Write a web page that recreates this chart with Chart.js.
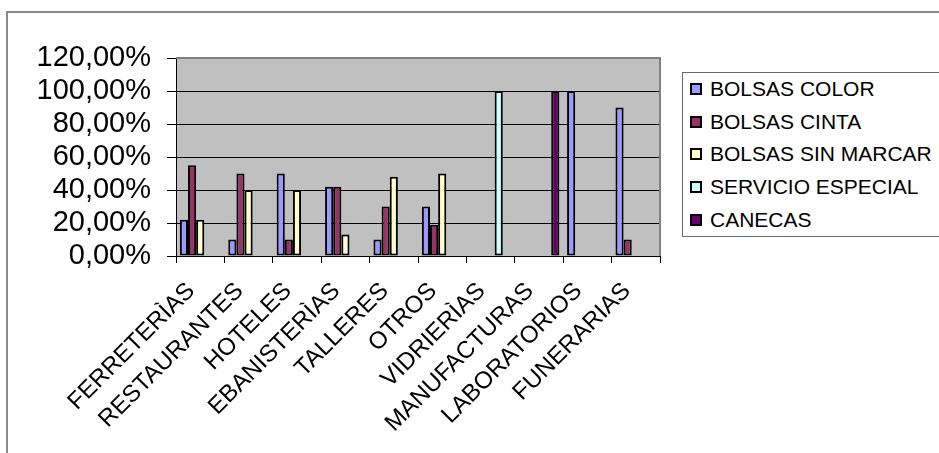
<!DOCTYPE html>
<html>
<head>
<meta charset="utf-8">
<script src="https://cdn.jsdelivr.net/npm/chart.js@4/dist/chart.umd.min.js"></script>
<style>
  html, body { margin: 0; padding: 0; background: #fff; }
  #wrap { position: relative; width: 939px; height: 453px; overflow: hidden;
          font-family: "Liberation Sans", Arial, sans-serif; }
  #frame { position: absolute; left: 6px; top: 11px; width: 980px; height: 500px;
           border: 2px solid #8a8a8a; }
  #chart { position: absolute; left: 0; top: 0; }
  #legend { position: absolute; left: 682px; top: 72px; width: 280px; height: 165px;
            border: 1.5px solid #6a6a6a; background: #fff; padding-top: 0px; box-sizing: border-box; }
  .item { height: 32.6px; display: flex; align-items: center; font-size: 21px; color: #000; }
  .swatch { width: 8px; height: 8px; border: 2px solid #000; margin-left: 7px; margin-right: 8px; }
</style>
</head>
<body>
<div id="wrap">
  <div id="frame"></div>
  <canvas id="chart" width="939" height="453"></canvas>
  <div id="legend"></div>
</div>
<script>
// categories and series (percent values)
const categories = ["FERRETERÌAS", "RESTAURANTES", "HOTELES", "EBANISTERÌAS", "TALLERES",
                    "OTROS", "VIDRIERÌAS", "MANUFACTURAS", "LABORATORIOS", "FUNERARIAS"];
const seriesNames = ["BOLSAS COLOR", "BOLSAS CINTA", "BOLSAS SIN MARCAR", "SERVICIO ESPECIAL", "CANECAS"];
const seriesColors = ["#9999FF", "#993366", "#FFFFCC", "#CCFFFF", "#660066"];

const bolsasColor      = [22, 10, 50, 42, 10, 30, null, null, 100, 90];
const bolsasCinta      = [55, 50, 10, 42, 30, 19, null, null, null, 10];
const bolsasSinMarcar  = [22, 40, 40, 13, 48, 50, null, null, null, null];
const servicioEspecial = [null, null, null, null, null, null, 100, null, null, null];
const canecas          = [null, null, null, null, null, null, null, 100, null, null];

const yMin = 0, yMax = 120, yStep = 20;

const seriesData = [bolsasColor, bolsasCinta, bolsasSinMarcar, servicioEspecial, canecas];
const FONT = "'Liberation Sans', Arial, sans-serif";

// gray plot background + gray top/right border
const plotArea = {
  id: "plotArea",
  beforeDraw(chart) {
    const { ctx, chartArea: a } = chart;
    ctx.save();
    ctx.fillStyle = "#C0C0C0";
    ctx.fillRect(a.left, a.top, a.right - a.left, a.bottom - a.top);
    ctx.restore();
  },
  beforeDatasetsDraw(chart) {
    const { ctx, chartArea: a } = chart;
    ctx.save();
    ctx.strokeStyle = "#808080";
    ctx.lineWidth = 2;
    ctx.beginPath();
    ctx.moveTo(a.left, a.top);
    ctx.lineTo(a.right, a.top);
    ctx.lineTo(a.right, a.bottom);
    ctx.stroke();
    ctx.restore();
  }
};

document.addEventListener("DOMContentLoaded", () => {
  const datasets = seriesNames.map((name, i) => ({
    label: name,
    data: seriesData[i],
    backgroundColor: seriesColors[i],
    borderColor: "#000",
    borderWidth: 2,
    borderSkipped: false,
    barPercentage: 1,
    categoryPercentage: 0.84
  }));

  new Chart(document.getElementById("chart"), {
    type: "bar",
    data: { labels: categories, datasets },
    plugins: [plotArea],
    options: {
      responsive: false,
      animation: false,
      layout: { padding: { top: 58, right: 279, left: 0, bottom: 0 } },
      plugins: { legend: { display: false }, tooltip: { enabled: false } },
      scales: {
        x: {
          grid: { drawOnChartArea: false, drawTicks: true, tickLength: 7, color: "#000", offset: true },
          border: { color: "#000", width: 1 },
          ticks: { autoSkip: false, minRotation: 45, maxRotation: 45, color: "#000", padding: 14,
                   labelOffset: -9, font: { family: FONT, size: 24 } },
          afterFit(s) { s.height = 197; }
        },
        y: {
          min: yMin, max: yMax,
          grid: { color: "#000", lineWidth: 1, tickLength: 9, tickColor: "#000" },
          border: { color: "#000", width: 1 },
          ticks: { stepSize: yStep, autoSkip: false, color: "#000", padding: 16,
                   font: { family: FONT, size: 29 },
                   callback: v => v.toFixed(2).replace(".", ",") + "%" },
          afterFit(s) { s.width = 176; }
        }
      }
    }
  });

  // legend box
  const leg = document.getElementById("legend");
  seriesNames.forEach((name, i) => {
    const row = document.createElement("div");
    row.className = "item";
    const sw = document.createElement("span");
    sw.className = "swatch";
    sw.style.background = seriesColors[i];
    const tx = document.createElement("span");
    tx.textContent = name;
    row.appendChild(sw);
    row.appendChild(tx);
    leg.appendChild(row);
  });
});
</script>
</body>
</html>
